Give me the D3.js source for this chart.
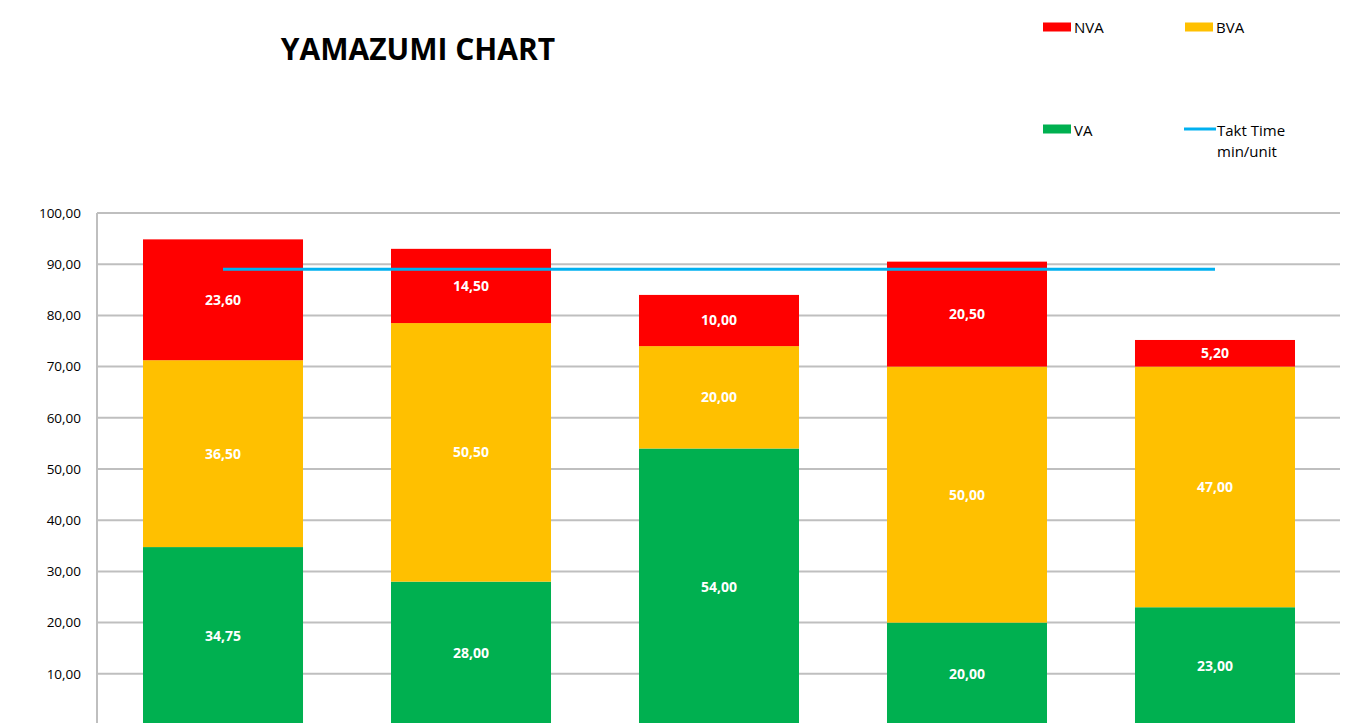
<!DOCTYPE html>
<html>
<head>
<meta charset="utf-8">
<script src="https://cdn.jsdelivr.net/npm/d3@7"></script>
<style>
html,body{margin:0;padding:0;background:#fff;}
svg{display:block;font-family:"Open Sans",Lato,sans-serif;}
</style>
</head>
<body>
<svg id="chart" width="1359" height="723"></svg>
<script>
const categories = ["Station 1", "Station 2", "Station 3", "Station 4", "Station 5"];
const vaValues  = [34.75, 28.00, 54.00, 20.00, 23.00];
const bvaValues = [36.50, 50.50, 20.00, 50.00, 47.00];
const nvaValues = [23.60, 14.50, 10.00, 20.50, 5.20];
const taktTime  = [89, 89, 89, 89, 89];
const yTicks    = [10, 20, 30, 40, 50, 60, 70, 80, 90, 100];
const seriesNames = ["VA", "BVA", "NVA"];
const colors = {VA: "#00B050", BVA: "#FFC000", NVA: "#FF0000", Takt: "#00B0F0"};

const svg = d3.select("#chart");
const fmt = d3.formatLocale({decimal: ",", thousands: ".", grouping: [3], currency: ["", ""]}).format(".2f");

const pLeft = 97, pRight = 1341, pTop = 213, pBottom = 725;
const x = d3.scaleBand().domain(categories).range([pLeft, pRight]).paddingInner(0.3548).paddingOuter(0.1855);
const y = d3.scaleLinear().domain([0, 100]).range([pBottom, pTop]);

// gridlines
svg.append("g").selectAll("line").data(yTicks).join("line")
  .attr("x1", pLeft).attr("x2", 1340)
  .attr("y1", d => y(d)).attr("y2", d => y(d))
  .attr("stroke", "#BFBFBF").attr("stroke-width", 2);

// y axis line
svg.append("line").attr("x1", pLeft).attr("x2", pLeft).attr("y1", pTop).attr("y2", 723)
  .attr("stroke", "#BFBFBF").attr("stroke-width", 2);

// y tick labels
const yAxis = d3.axisLeft(y).tickValues(yTicks).tickFormat(fmt).tickSize(0).tickPadding(16);
const ga = svg.append("g").attr("transform", `translate(${pLeft},0)`).call(yAxis);
ga.select(".domain").remove();
ga.selectAll("text").attr("font-size", 13.5).attr("fill", "#000").style("font-family", "'Open Sans',sans-serif");

// stacked data
const rows = categories.map((c, i) => ({cat: c, VA: vaValues[i], BVA: bvaValues[i], NVA: nvaValues[i]}));
const stack = d3.stack().keys(seriesNames)(rows);

const layers = svg.append("g").selectAll("g").data(stack).join("g")
  .attr("fill", d => colors[d.key]);
layers.selectAll("rect").data(d => d).join("rect")
  .attr("x", d => x(d.data.cat))
  .attr("width", x.bandwidth())
  .attr("y", d => y(d[1]))
  .attr("height", d => y(d[0]) - y(d[1]));

// labels
const lab = svg.append("g");
stack.forEach(layer => {
  layer.forEach(d => {
    lab.append("text")
      .attr("x", x(d.data.cat) + x.bandwidth() / 2)
      .attr("y", (y(d[0]) + y(d[1])) / 2)
      .attr("dy", "0.35em")
      .attr("text-anchor", "middle")
      .attr("fill", "#fff")
      .attr("font-weight", "bold")
      .attr("font-size", 14)
      .text(fmt(d[1] - d[0]));
  });
});

// takt line
const line = d3.line().x((d, i) => x(categories[i]) + x.bandwidth() / 2).y(d => y(d));
svg.append("path").datum(taktTime).attr("d", line)
  .attr("fill", "none").attr("stroke", colors.Takt).attr("stroke-width", 3);

// title
svg.append("text").attr("x", 418).attr("y", 60).attr("text-anchor", "middle")
  .attr("font-size", 30).attr("font-weight", "bold").attr("fill", "#000").text("YAMAZUMI CHART");

// legend
const leg = svg.append("g").attr("font-size", 15).attr("fill", "#000");
const legendItems = [
  {name: "NVA", key: "NVA", sx: 1043, sy: 27, ty: 33},
  {name: "BVA", key: "BVA", sx: 1185, sy: 27, ty: 33},
  {name: "VA", key: "VA", sx: 1043, sy: 129, ty: 136}
];
legendItems.forEach(it => {
  leg.append("rect").attr("x", it.sx).attr("y", it.sy - 4.5).attr("width", 28).attr("height", 9).attr("fill", colors[it.key]);
  leg.append("text").attr("x", it.sx + 31).attr("y", it.ty).text(it.name);
});
leg.append("line").attr("x1", 1184).attr("x2", 1216).attr("y1", 129).attr("y2", 129)
  .attr("stroke", colors.Takt).attr("stroke-width", 3);
leg.append("text").attr("x", 1217).attr("y", 136).text("Takt Time");
leg.append("text").attr("x", 1217).attr("y", 157).text("min/unit");
</script>
</body>
</html>
